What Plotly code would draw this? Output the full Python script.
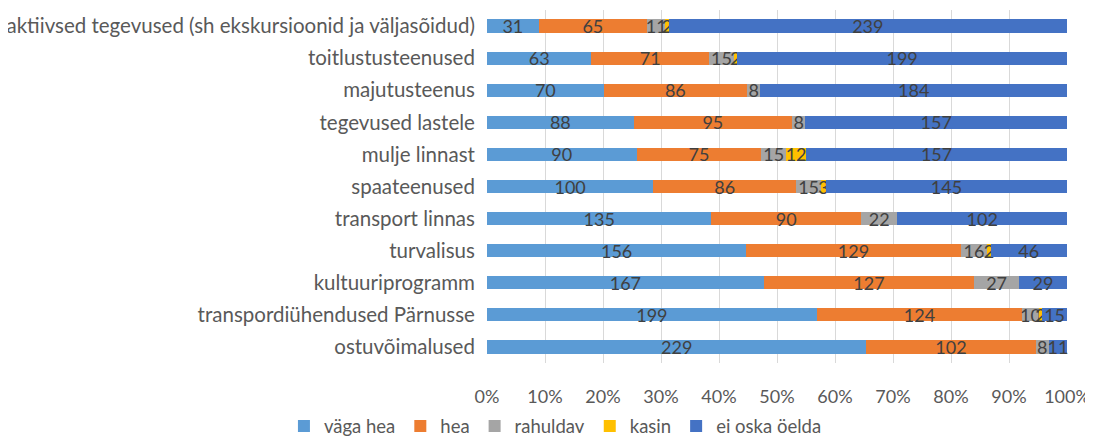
import plotly.graph_objects as go

categories = [
    "aktiivsed tegevused (sh ekskursioonid ja väljasõidud)",
    "toitlustusteenused",
    "majutusteenus",
    "tegevused lastele",
    "mulje linnast",
    "spaateenused",
    "transport linnas",
    "turvalisus",
    "kultuuriprogramm",
    "transpordiühendused Pärnusse",
    "ostuvõimalused",
]
vaga_hea = [31, 63, 70, 88, 90, 100, 135, 156, 167, 199, 229]
hea = [65, 71, 86, 95, 75, 86, 90, 129, 127, 124, 102]
rahuldav = [11, 15, 8, 8, 15, 15, 22, 16, 27, 10, 8]
kasin = [2, 2, None, None, 12, 3, None, 2, None, 2, 0]
ei_oska = [239, 199, 184, 157, 157, 145, 102, 46, 29, 15, 11]

series = [
    ("väga hea", vaga_hea, "#5B9BD5"),
    ("hea", hea, "#ED7D31"),
    ("rahuldav", rahuldav, "#A5A5A5"),
    ("kasin", kasin, "#FFC000"),
    ("ei oska öelda", ei_oska, "#4472C4"),
]

FONT = "Lato"
fig = go.Figure()
for name, vals, color in series:
    fig.add_trace(go.Bar(
        name=name, y=categories, x=vals, orientation="h",
        marker=dict(color=color, line=dict(width=0)),
        text=["" if v is None else str(v) for v in vals],
        textposition="inside", insidetextanchor="middle",
        constraintext="none", textangle=0,
        textfont=dict(family=FONT, size=18, color="#404040"),
        cliponaxis=False,
    ))

# page body has an 8px default margin, so figure is offset by 8px
fig.update_layout(
    barmode="stack", barnorm="percent", bargap=0.59,
    width=1085, height=430,
    margin=dict(l=479, r=26, t=2, b=75, autoexpand=False),
    paper_bgcolor="white", plot_bgcolor="white",
    font=dict(family=FONT, size=18, color="#595959"),
    showlegend=True,
    legend=dict(orientation="h", traceorder="normal",
                x=0.118, xanchor="center", y=-0.18, yanchor="middle",
                font=dict(family=FONT, size=18.5, color="#595959"),
                itemwidth=30, tracegroupgap=0),
)
fig.update_xaxes(range=[0, 100], tickvals=list(range(0, 101, 10)),
                 ticktext=[f"{v}%" for v in range(0, 101, 10)],
                 showgrid=True, gridcolor="#D9D9D9", gridwidth=1, zeroline=False,
                 ticks="outside", ticklen=17, tickcolor="rgba(0,0,0,0)",
                 tickfont=dict(family=FONT, size=18, color="#595959"),
                 showline=False, automargin=False)
fig.update_yaxes(autorange="reversed", showgrid=False, showline=False,
                 ticks="outside", ticklen=7, tickcolor="rgba(0,0,0,0)",
                 tickfont=dict(family=FONT, size=20.5, color="#595959"),
                 automargin=False)

fig.write_html("out.html")
